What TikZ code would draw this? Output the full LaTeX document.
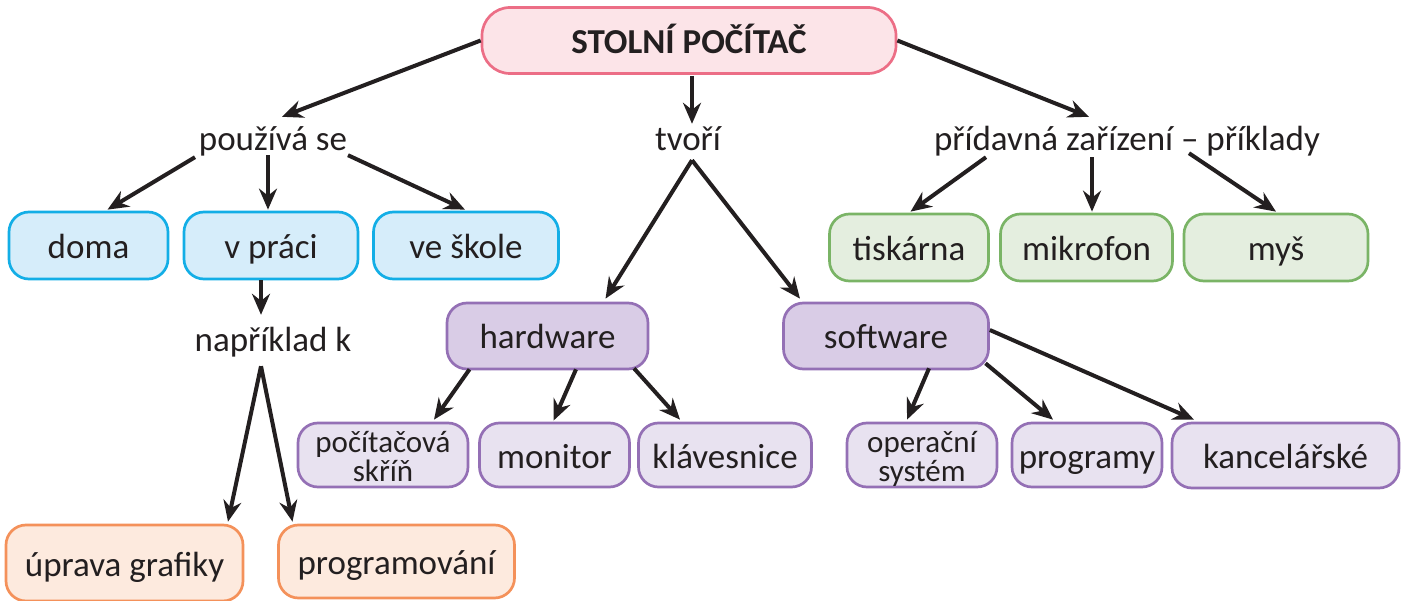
\documentclass[tikz,border=0pt]{standalone}
\usepackage{fontspec}
\setmainfont{Carlito}
\usetikzlibrary{arrows.meta}
\definecolor{ink}{HTML}{231F20}
\definecolor{pinkfill}{HTML}{FCE4E8}
\definecolor{pinkdraw}{HTML}{EC6E86}
\definecolor{bluefill}{HTML}{D6EDFA}
\definecolor{bluedraw}{HTML}{13AEE6}
\definecolor{greenfill}{HTML}{E4EEDF}
\definecolor{greendraw}{HTML}{7AB466}
\definecolor{purpfill}{HTML}{D9CCE6}
\definecolor{purplight}{HTML}{E8E2F0}
\definecolor{purpdraw}{HTML}{9470B5}
\definecolor{orangefill}{HTML}{FDEADE}
\definecolor{orangedraw}{HTML}{F4915A}
\tikzset{
  bx/.style 2 args={minimum width=#1pt, minimum height=#2pt},
  box/.style={rounded corners=20pt, line width=2.7pt, inner sep=0pt, text=ink,
    font=\fontsize{35}{40}\selectfont, text height=32pt, text depth=6pt},
  twoline/.style={rounded corners=20pt, line width=2.7pt, inner sep=0pt, text=ink,
    font=\fontsize{31}{29.5}\selectfont, align=center},
  topbox/.style={box, rounded corners=28pt, draw=pinkdraw, fill=pinkfill, font=\fontsize{35}{40}\selectfont\bfseries},
  bluebox/.style={box, draw=bluedraw, fill=bluefill},
  greenbox/.style={box, draw=greendraw, fill=greenfill},
  purpbox/.style={box, draw=purpdraw, fill=purpfill},
  lightbox/.style={box, draw=purpdraw, fill=purplight},
  lighttwo/.style={twoline, draw=purpdraw, fill=purplight},
  orangebox/.style={box, draw=orangedraw, fill=orangefill},
  lab/.style={inner sep=0pt, text=ink, anchor=base, font=\fontsize{35}{40}\selectfont,
    text height=24pt, text depth=8pt},
  arr/.style={draw=ink, line width=4pt, -{Stealth[length=21pt,width=18pt,inset=7pt]}},
}
\begin{document}
\begin{tikzpicture}[x=1pt,y=-1pt]
\useasboundingbox (0,0) rectangle (1411,601);

% boxes
\node[topbox, bx={414}{66}] (top) at (689,40.5) {STOLNÍ POČÍTAČ};

\node[lab] (pouziva) at (273,151) {používá se};
\node[lab] (tvori) at (688,151) {tvoří};
\node[lab] (pridavna) at (1127,151) {přídavná zařízení – příklady};

\node[bluebox, bx={159}{67}] (doma) at (88.5,245.5) {doma};
\node[bluebox, bx={174}{67}] (vpraci) at (271,245.5) {v práci};
\node[bluebox, bx={185}{67}] (veskole) at (466,245.5) {ve škole};

\node[greenbox, bx={159}{67}] (tiskarna) at (909,247.5) {tiskárna};
\node[greenbox, bx={172}{67}] (mikrofon) at (1086.5,247.5) {mikrofon};
\node[greenbox, bx={184}{67}] (mys) at (1276,247.5) {myš};

\node[lab] (napr) at (273,352) {například k};

\node[purpbox, bx={201}{66}] (hardware) at (547.5,336) {hardware};
\node[purpbox, bx={205}{66}] (software) at (886,336) {software};

\node[lighttwo, bx={170}{64}] (skrin) at (383,455)
  {\rule{0pt}{28.5pt}počítačová\\skříň\rule[-5pt]{0pt}{5pt}};
\node[lightbox, bx={150}{64}] (monitor) at (554.5,455) {monitor};
\node[lightbox, bx={173}{64}] (klavesnice) at (725,455) {klávesnice};

\node[lighttwo, bx={150}{64}] (os) at (922,455)
  {\rule{0pt}{28.5pt}operační\\systém\rule[-5pt]{0pt}{5pt}};
\node[lightbox, bx={150}{64}] (programy) at (1087,455) {programy};
\node[lightbox, bx={227}{65}] (kancelarske) at (1285.5,455.5) {kancelářské};

\node[orangebox, bx={237}{76}] (uprava) at (124.5,563) {úprava grafiky};
\node[orangebox, bx={236}{73}] (programovani) at (396.5,561.5) {programování};

% connectors
\draw[arr] (top.west) -- ([shift={(9,-10)}]pouziva.north);
\draw[arr] ([shift={(3,1)}]top.south) -- ([shift={(4,-3)}]tvori.north);
\draw[arr] (top.east) -- ([shift={(-38,-10)}]pridavna.north);

\draw[arr] ([shift={(-78,-2)}]pouziva.south) -- ([shift={(19,-1)}]doma.north);
\draw[arr] ([shift={(-5,-4)}]pouziva.south) -- ([shift={(-3,-1)}]vpraci.north);
\draw[arr] ([shift={(75,-4)}]pouziva.south) -- ([shift={(-1,-1)}]veskole.north);

\draw[arr] ([shift={(-10,0)}]vpraci.south) -- ([shift={(-12,-13)}]napr.north);
\draw[arr] ([shift={(-12,6)}]napr.south) -- ([shift={(103.5,-2)}]uprava.north);
\draw[arr] ([shift={(-12,6)}]napr.south) -- ([shift={(-104,-2)}]programovani.north);

\draw[arr] ([shift={(4,1)}]tvori.south) -- ([shift={(58,-3)}]hardware.north);
\draw[arr] ([shift={(4,1)}]tvori.south) -- ([shift={(-86,-3)}]software.north);

\draw[arr] ([shift={(-141,-2)}]pridavna.south) -- ([shift={(1.5,-1)}]tiskarna.north);
\draw[arr] ([shift={(-35,-2)}]pridavna.south) -- ([shift={(5.5,-1)}]mikrofon.north);
\draw[arr] ([shift={(62,-6)}]pridavna.south) -- ([shift={(0,-1)}]mys.north);

\draw[arr] ([shift={(-78,-1)}]hardware.south) -- ([shift={(51,-2)}]skrin.north);
\draw[arr] ([shift={(28.5,-1)}]hardware.south) -- ([shift={(-1,-1)}]monitor.north);
\draw[arr] ([shift={(86.5,-2)}]hardware.south) -- ([shift={(-45,-2)}]klavesnice.north);

\draw[arr] ([shift={(43,-2)}]software.south) -- ([shift={(-15,-2)}]os.north);
\draw[arr] ([shift={(99.5,-7)}]software.south) -- ([shift={(-34,-2)}]programy.north);
\draw[arr] ([shift={(0,-6)}]software.east) -- ([shift={(-91.5,-2)}]kancelarske.north);
\end{tikzpicture}
\end{document}
